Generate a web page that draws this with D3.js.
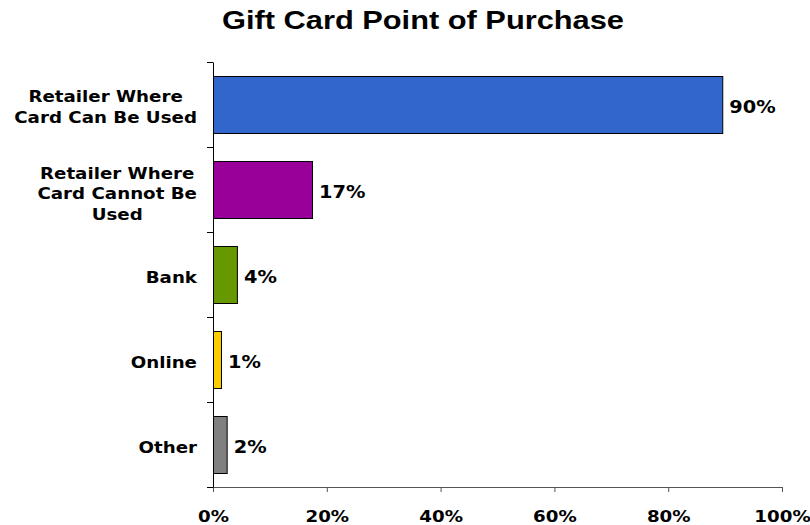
<!DOCTYPE html>
<html><head><meta charset="utf-8">
<script src="https://cdn.jsdelivr.net/npm/d3@7"></script>
<style>body{margin:0;background:#fff} svg{display:block}</style>
</head><body>
<svg id="c" width="810" height="525"></svg>
<script>
const title = "Gift Card Point of Purchase";
const categories = ["Retailer Where Card Can Be Used", "Retailer Where Card Cannot Be Used", "Bank", "Online", "Other"];
const categoryLines = [["Retailer Where","Card Can Be Used"],["Retailer Where","Card Cannot Be","Used"],["Bank"],["Online"],["Other"]];
const values = [89.5, 17.4, 4.2, 1.4, 2.4];
const valueLabels = ["90%","17%","4%","1%","2%"];
const colors = ["#3366CC","#990099","#669900","#FFCC00","#808080"];
const xTicks = [0,20,40,60,80,100];

const svg = d3.select("#c");
const plotLeft=213, plotRight=782, plotTop=62, plotBottom=487;
const SX = 1.14;
const FONT = "'DejaVu Sans', Verdana, sans-serif";

const x = d3.scaleLinear().domain([0,100]).range([plotLeft,plotRight]);
const y = d3.scaleBand().domain(categories).range([plotTop,plotBottom]).paddingInner(0.33).paddingOuter(0.165);
const yb = d3.scaleLinear().domain([0,categories.length]).range([plotTop,plotBottom]);

// title
svg.append("text")
  .attr("x", 423).attr("y", 29)
  .attr("text-anchor","middle")
  .attr("textLength", 402).attr("lengthAdjust","spacingAndGlyphs")
  .style("font-family","'Liberation Sans', Arial, sans-serif")
  .style("font-weight","bold").style("font-size","25px").attr("fill","#000")
  .text(title);

// bars
svg.append("g").selectAll("rect").data(categories).join("rect")
  .attr("x", x(0)+0.5)
  .attr("y", (d)=>Math.round(y(d))+0.5)
  .attr("width", (d,i)=>x(values[i])-x(0))
  .attr("height", Math.round(y.bandwidth()))
  .attr("fill", (d,i)=>colors[i])
  .attr("stroke","#000").attr("stroke-width",1);

// x axis
const gx = svg.append("g").attr("transform",`translate(0,${plotBottom})`)
  .call(d3.axisBottom(x).tickValues(xTicks).tickFormat(d=>d+"%").tickSize(5).tickSizeOuter(0));
gx.select(".domain").attr("stroke","#555");
gx.selectAll(".tick line").attr("stroke","#555");
gx.selectAll(".tick text")
  .attr("y",0).attr("dy",null)
  .attr("transform",`translate(0,35) scale(${SX},1)`)
  .style("font-family",FONT).style("font-weight","bold").style("font-size","16px").attr("fill","#000");

// y axis
const gy = svg.append("g").attr("transform",`translate(${plotLeft},0)`)
  .call(d3.axisLeft(yb).tickValues(d3.range(categories.length+1)).tickFormat("").tickSize(6).tickSizeOuter(0));
gy.select(".domain").attr("stroke","#000");
gy.selectAll(".tick line").attr("stroke","#000");

// value labels
svg.append("g").selectAll("text").data(categories).join("text")
  .attr("transform",(d,i)=>`translate(${x(values[i])+7},${y(d)+y.bandwidth()/2+8.5}) scale(${SX},1)`)
  .style("font-family",FONT).style("font-weight","bold").style("font-size","17px").attr("fill","#000")
  .text((d,i)=>valueLabels[i]);

// category labels
const LH = 21;
categories.forEach((c,i)=>{
  const lines = categoryLines[i];
  const n = lines.length;
  const cy = y(c)+y.bandwidth()/2;
  const base = cy + 8 - (n-1)*LH/2 + (n>2?2:0);
  const t = svg.append("text")
    .attr("text-anchor","middle")
    .style("font-family",FONT).style("font-weight","bold").style("font-size","16px").attr("fill","#000");
  const spans = lines.map((l,k)=>t.append("tspan").attr("x",0).attr("y",k*LH).text(l));
  const w = d3.max(spans, s=>s.node().getComputedTextLength())*SX;
  const cx = 197 - w/2;
  t.attr("transform",`translate(${cx},${base}) scale(${SX},1)`);
});
</script>
</body></html>
